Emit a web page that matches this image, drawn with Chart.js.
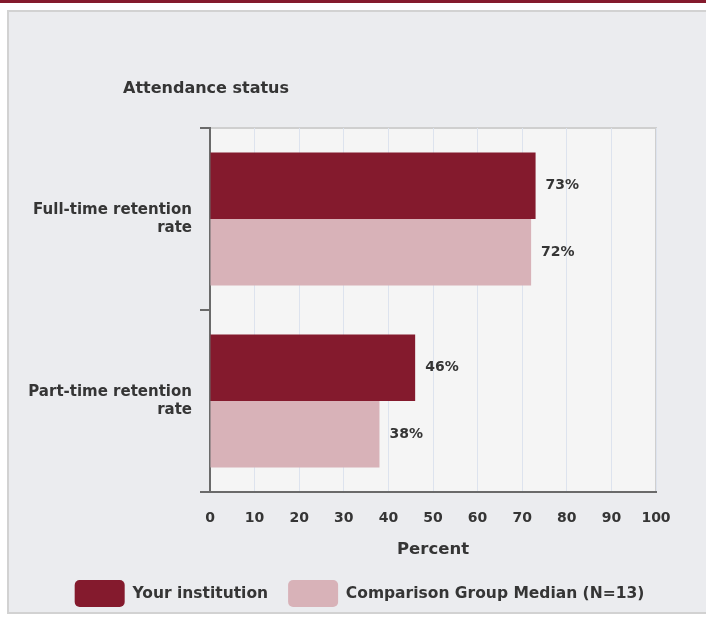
<!DOCTYPE html>
<html>
<head>
<meta charset="utf-8">
<script src="https://cdn.jsdelivr.net/npm/chart.js@4/dist/chart.umd.min.js"></script>
<style>
  html, body { margin: 0; padding: 0; background: #ffffff; width: 706px; height: 618px; overflow: hidden; }
  #topbar { position: absolute; left: 0; top: 0; width: 706px; height: 3px; background: #841a2d; }
  #panel { position: absolute; left: 7px; top: 10px; width: 710px; height: 604px; background: #ebecef;
           border: 2px solid #d2d2d2; box-sizing: border-box; }
  #myChart { position: absolute; left: 0; top: 0; }
</style>
</head>
<body>
<div id="topbar"></div>
<div id="panel"></div>
<canvas id="myChart" width="706" height="618"></canvas>
<script>
const categories = [["Full-time retention", "rate"], ["Part-time retention", "rate"]];
const yourInstitution = [73, 46];
const comparisonMedian = [72, 38];
const seriesNames = ["Your institution", "Comparison Group Median (N=13)"];
const axisTitle = "Attendance status";
const valueTitle = "Percent";

const textColor = "#353535";
const fontFamily = "'DejaVu Sans', Verdana, sans-serif";
Chart.defaults.font.family = fontFamily;
Chart.defaults.font.weight = "bold";
Chart.defaults.color = textColor;

// plot background + light border on top/right
const plotBackground = {
  id: "plotBackground",
  beforeDraw(chart) {
    const { ctx, chartArea: a } = chart;
    ctx.save();
    ctx.fillStyle = "#f5f5f5";
    ctx.fillRect(a.left, a.top, a.right - a.left, a.bottom - a.top);
    ctx.strokeStyle = "#cfcfcf";
    ctx.lineWidth = 2;
    ctx.beginPath();
    ctx.moveTo(a.left, a.top);
    ctx.lineTo(a.right, a.top);
    ctx.lineTo(a.right, a.bottom);
    ctx.stroke();
    ctx.restore();
  },
};

// "Attendance status" heading above the category axis
const categoryHeading = {
  id: "categoryHeading",
  afterDraw(chart) {
    const { ctx, chartArea: a } = chart;
    ctx.save();
    ctx.font = "bold 16px " + fontFamily;
    ctx.fillStyle = textColor;
    ctx.textAlign = "left";
    ctx.textBaseline = "middle";
    ctx.fillText(axisTitle, a.left - 87, a.top - 39);
    ctx.restore();
  },
};

// percent labels to the right of each bar
const valueLabels = {
  id: "valueLabels",
  afterDatasetsDraw(chart) {
    const { ctx } = chart;
    ctx.save();
    ctx.font = "bold 14px " + fontFamily;
    ctx.fillStyle = textColor;
    ctx.textAlign = "left";
    ctx.textBaseline = "middle";
    chart.data.datasets.forEach((ds, i) => {
      chart.getDatasetMeta(i).data.forEach((bar, j) => {
        ctx.fillText(ds.data[j] + "%", bar.x + 10, bar.y);
      });
    });
    ctx.restore();
  },
};

const ctx = document.getElementById("myChart").getContext("2d");
new Chart(ctx, {
  type: "bar",
  data: {
    labels: categories,
    datasets: [
      {
        label: seriesNames[0],
        data: yourInstitution,
        backgroundColor: "#841a2d",
        categoryPercentage: 0.73,
        barPercentage: 1.0,
      },
      {
        label: seriesNames[1],
        data: comparisonMedian,
        backgroundColor: "#d8b2b8",
        categoryPercentage: 0.73,
        barPercentage: 1.0,
      },
    ],
  },
  options: {
    indexAxis: "y",
    responsive: false,
    animation: false,
    layout: { padding: { left: 13, right: 0, top: 128, bottom: 1 } },
    plugins: {
      legend: {
        position: "bottom",
        labels: {
          boxWidth: 50,
          boxHeight: 27,
          useBorderRadius: true,
          borderRadius: 5,
          padding: 20,
          color: textColor,
          font: { size: 15.5, weight: "bold" },
        },
      },
      tooltip: { enabled: false },
    },
    scales: {
      x: {
        min: 0,
        max: 100,
        ticks: { stepSize: 10, padding: 18, color: textColor, font: { size: 14, weight: "bold" } },
        grid: { color: "#dde3ee", drawTicks: false },
        border: { color: "#6a6a6a", width: 2 },
        title: {
          display: true,
          text: valueTitle,
          color: textColor,
          font: { size: 16.5, weight: "bold" },
          padding: { top: 0, bottom: 0 },
        },
        afterFit(scale) {
          scale.height = 68;
        },
      },
      y: {
        ticks: { padding: 8, color: textColor, font: { size: 15, weight: "bold" } },
        grid: { offset: true, drawOnChartArea: false, drawTicks: true, tickLength: 10, color: "#6a6a6a", lineWidth: 2 },
        border: { color: "#6a6a6a", width: 2 },
        afterFit(scale) {
          scale.width = 197;
        },
      },
      // empty right-hand axis, only reserves the space right of the plot
      yRight: {
        type: "category",
        axis: "y",
        position: "right",
        ticks: { display: false },
        grid: { display: false },
        border: { display: false },
        afterFit(scale) {
          scale.width = 50;
        },
      },
    },
  },
  plugins: [plotBackground, categoryHeading, valueLabels],
});
</script>
</body>
</html>
